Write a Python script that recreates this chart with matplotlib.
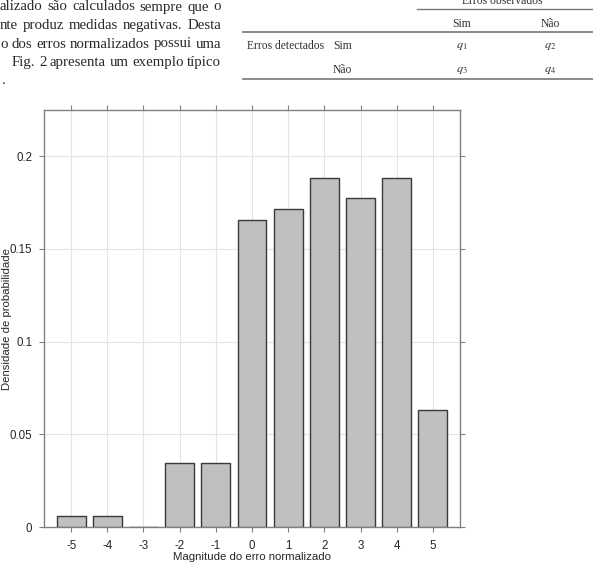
import numpy as np
import matplotlib
matplotlib.use('Agg')
import matplotlib.pyplot as plt

# magnitude do erro normalizado vs densidade
magnitudes = [-5, -4, -3, -2, -1, 0, 1, 2, 3, 4, 5]
densidade = [0.0059, 0.0059, 0.0, 0.0346, 0.0346, 0.1658, 0.1717, 0.1885, 0.1773, 0.1885, 0.0632]
yticks = [0, 0.05, 0.1, 0.15, 0.2]
ytick_labels = ['0', '0.05', '0.1', '0.15', '0.2']

paragraph = ['alizado são calculados sempre que o',
             'nte produz medidas negativas. Desta',
             'o dos erros normalizados possui uma',
             ' Fig. 2 apresenta um exemplo típico']

W, H = 593, 570
fig = plt.figure(figsize=(W / 100, H / 100), dpi=100)
plt.rcParams['mathtext.fontset'] = 'stix'
sans = 'Liberation Sans'
serif = 'Liberation Serif'


def px(x, y):
    return x / W, 1 - y / H


# texto do artigo, justificado entre x0 e x1 (linhas de base)
renderer = fig.canvas.get_renderer()
x0, x1 = 0, 221
baselines = [10.5, 29, 47.5, 66]
pfs = 10.7
for k, line in enumerate(paragraph):
    words = line.split()
    start = 12 if line.startswith(' ') else x0
    widths = []
    objs = []
    for w in words:
        t = fig.text(0, 0, w, fontsize=pfs, family=serif, color='#2a2a2a', va='baseline')
        widths.append(t.get_window_extent(renderer).width)
        objs.append(t)
    gap = (x1 - start - sum(widths)) / max(len(words) - 1, 1)
    cx = start
    for t, wd in zip(objs, widths):
        t.set_position(px(cx, baselines[k]))
        cx += wd + gap
fig.text(*px(2, 84.5), '.', fontsize=pfs, family=serif, color='#2a2a2a', va='baseline')

# tabela
tcol = '#333333'
tfs = 8.4
fig.text(*px(502, 1), 'Erros observados', fontsize=tfs, family=serif, color=tcol, ha='center', va='center')
fig.add_artist(plt.Line2D([417 / W, 1], [1 - 9 / H, 1 - 9 / H], color='#777777', lw=1))
fig.text(*px(462, 24), 'Sim', fontsize=tfs, family=serif, color=tcol, ha='center', va='center')
fig.text(*px(550, 24), 'Não', fontsize=tfs, family=serif, color=tcol, ha='center', va='center')
for yy in [32, 79]:
    fig.add_artist(plt.Line2D([243 / W, 1], [1 - yy / H, 1 - yy / H], color='#777777', lw=1.2))
fig.text(*px(247, 46), 'Erros detectados', fontsize=tfs, family=serif, color=tcol, va='center')
fig.text(*px(333, 46), 'Sim', fontsize=tfs, family=serif, color=tcol, va='center')
fig.text(*px(333, 70), 'Não', fontsize=tfs, family=serif, color=tcol, va='center')
qs = [(462, 46, '$q_1$'), (550, 46, '$q_2$'), (462, 70, '$q_3$'), (550, 70, '$q_4$')]
for xq, yq, s in qs:
    fig.text(*px(xq, yq), s, fontsize=tfs + 0.5, color=tcol, ha='center', va='center')

# grafico
ax = fig.add_axes([44 / W, 1 - 527 / H, (460 - 44) / W, (527 - 110) / H])
ax.bar(magnitudes, densidade, width=0.8, color='#c0c0c0', edgecolor='#3a3a3a', linewidth=1, zorder=3)
ax.set_xlim(-5.75, 5.75)
ax.set_ylim(0, 0.225)
ax.set_xticks(magnitudes)
ax.set_xticklabels([str(m) for m in magnitudes])
ax.set_yticks(yticks)
ax.set_yticklabels(ytick_labels)
ax.grid(True, color='#e4e4e4', linewidth=0.8, zorder=0)
ax.set_axisbelow(True)
for s in ax.spines.values():
    s.set_color('#808080')
    s.set_linewidth(1)
ax.tick_params(direction='out', length=3.5, width=0.8, color='#808080',
               labelsize=8.3, labelcolor='#262626', top=True, right=True,
               labeltop=False, labelright=False)
ax.tick_params(axis='x', pad=6)
ax.tick_params(axis='y', pad=5)
for lab in ax.get_xticklabels() + ax.get_yticklabels():
    lab.set_family(sans)
ax.set_xlabel('Magnitude do erro normalizado', fontsize=8.2, family=sans, color='#262626')
ax.set_ylabel('Densidade de probabilidade', fontsize=8.2, family=sans, color='#262626')
ax.xaxis.set_label_coords((252 - 44) / 416, -(557 - 527) / 417)
ax.yaxis.set_label_coords(-(44 - 7) / 416, 0.5)
ax.xaxis.label.set_va('center')
ax.yaxis.label.set_va('center')

fig.savefig('out.png', dpi=100)
